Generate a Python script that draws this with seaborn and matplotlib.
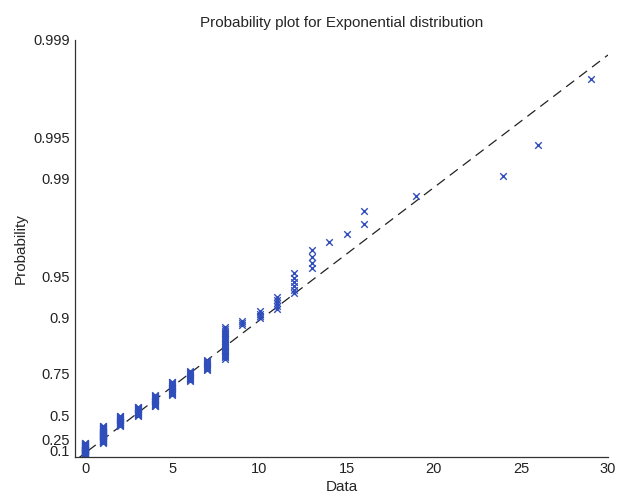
import numpy as np
import pandas as pd
import matplotlib
matplotlib.use("agg")
import matplotlib.pyplot as plt
import seaborn as sns

# sample: distinct values and how many times each appears
values = [0, 1, 2, 3, 4, 5, 6, 7, 8, 9, 10, 11, 12, 13, 14, 15, 16, 19, 24, 26, 29]
counts = [55, 51, 24, 19, 20, 19, 12, 11, 22, 3, 4, 5, 6, 4, 1, 1, 2, 1, 1, 1, 1]

prob_ticks = [0.1, 0.25, 0.5, 0.75, 0.9, 0.95, 0.99, 0.995, 0.999]
prob_labels = ["0.1", "0.25", "0.5", "0.75", "0.9", "0.95", "0.99", "0.995", "0.999"]
x_ticks = [0, 5, 10, 15, 20, 25, 30]


def expq(p):
    # exponential probability scale
    return -np.log(1 - np.asarray(p, dtype=float))


data = np.sort(np.repeat(values, counts))
n = len(data)
pos = (np.arange(1, n + 1) - 0.5) / n
df = pd.DataFrame({"Data": data, "q": expq(pos)})

# reference line through the lower and upper quartiles
q1, q3 = np.percentile(data, [25, 75])
slope = (expq(0.75) - expq(0.25)) / (q3 - q1)
xl = (-0.6, 30)
line = pd.DataFrame({"x": list(xl)})
line["y"] = expq(0.25) + slope * (line["x"] - q1)

sns.set_style("white")
plt.rcParams["font.family"] = ["Liberation Sans", "DejaVu Sans"]

fig = plt.figure(figsize=(6.29, 5.03), dpi=100)
ax = fig.add_axes([0.119, 0.0915, 0.8476, 0.829])

sns.lineplot(data=line, x="x", y="y", ax=ax, color="#222222", lw=0.9,
             linestyle=(0, (8, 5)), zorder=1)
sns.scatterplot(data=df, x="Data", y="q", ax=ax, marker="x", color="#2f4dbb",
                s=22, linewidth=1.0, zorder=2)

ax.set_xlim(*xl)
ax.set_ylim(0, expq(0.999))
ax.set_xticks(x_ticks)
ax.set_yticks(expq(prob_ticks))
ax.set_yticklabels(prob_labels)
ax.tick_params(direction="in", length=5, width=0.8, labelsize=10.5, colors="#222222")
for s in ["top", "right"]:
    ax.spines[s].set_visible(False)
for s in ["left", "bottom"]:
    ax.spines[s].set_color("#333333")
    ax.spines[s].set_linewidth(0.9)

ax.set_title("Probability plot for Exponential distribution", fontsize=11, pad=9)
ax.set_xlabel("Data", fontsize=11, labelpad=3)
ax.set_ylabel("Probability", fontsize=11, labelpad=4)

fig.savefig("out.png", dpi=100)
